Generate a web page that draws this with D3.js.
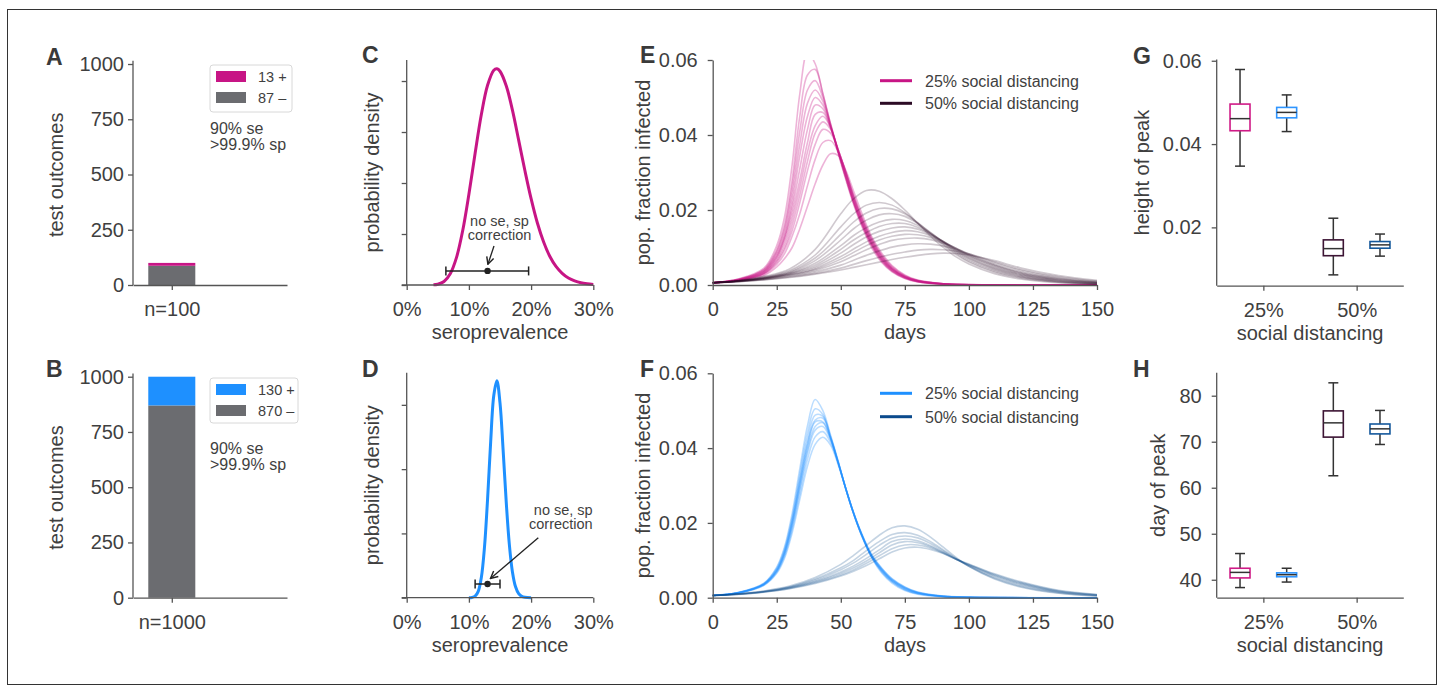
<!DOCTYPE html>
<html><head><meta charset="utf-8">
<script src="https://cdn.jsdelivr.net/npm/d3@7"></script>
<style>
body{margin:0;background:#fff;}
text{font-family:"Liberation Sans",Arial,Helvetica,sans-serif;}
</style>
</head><body>
<svg id="chart" width="1444" height="692"></svg>
<script>
// ---------------- DATA ----------------
// Panels A, B: test outcomes
const sampleLabels = ["n=100", "n=1000"];
const positiveCounts = [13, 130];
const negativeCounts = [87, 870];
const assayText = ["90% se", ">99.9% sp"];
const countTicks = [0, 250, 500, 750, 1000];

// Panels C, D: seroprevalence posterior densities
const seroGridC = [0.043,0.05,0.06,0.07,0.08,0.09,0.10,0.11,0.12,0.13,0.14,0.145,0.15,0.16,0.17,0.18,0.19,0.20,0.21,0.22,0.23,0.24,0.25,0.26,0.27,0.28,0.29,0.30];
const densityC = [0.01,0.036,0.17,0.55,1.34,2.66,4.45,6.46,8.36,9.79,10.53,10.6,10.48,9.77,8.57,7.10,5.61,4.23,3.05,2.12,1.41,0.91,0.57,0.34,0.20,0.11,0.06,0.03];
const seroGridD = [0.10,0.105,0.11,0.115,0.12,0.125,0.13,0.135,0.14,0.145,0.15,0.155,0.16,0.165,0.17,0.175,0.18,0.185,0.19,0.20];
const densityD = [0.006,0.044,0.24,0.99,3.15,7.79,15.3,24.25,31.45,33.76,30.3,23.0,14.9,8.31,4.01,1.69,0.62,0.20,0.058,0.003];
const densityTicksC = [0, 2.5, 5, 7.5, 10];
const densityTicksD = [0, 10, 20, 30];
const seroTicks = [0, 0.1, 0.2, 0.3];
// naive estimate (no se, sp correction) with interval, drawn at a density height
const naiveEstimate = [0.13, 0.13];
const naiveLow = [0.063, 0.110];
const naiveHigh = [0.196, 0.150];
const naiveBarDensity = [0.69, 2.13];
const naiveNote = ["no se, sp", "correction"];

// Panels E, F: epidemic trajectories (fraction infected)
const days25 = [0,10,20,25,28,31,34,37,40,43,46,49,52,55,58,62,66,70,75,80,90,100,150];
const curvesE25 = [
 [0.0006,0.0016,0.0045,0.0105,0.018,0.032,0.051,0.062,0.059,0.051,0.0425,0.035,0.028,0.0215,0.016,0.010,0.006,0.0035,0.0017,0.0008,0.0002,0.00005,0],
 [0.0006,0.0015,0.0042,0.0095,0.016,0.028,0.045,0.056,0.0575,0.051,0.043,0.0355,0.0285,0.022,0.0165,0.0105,0.0063,0.0037,0.0018,0.0009,0.00022,0.00005,0],
 [0.0006,0.0015,0.0040,0.0090,0.015,0.026,0.041,0.052,0.0545,0.050,0.043,0.0355,0.0285,0.022,0.0165,0.0107,0.0065,0.0038,0.0019,0.0009,0.00023,0.00006,0],
 [0.0006,0.0014,0.0038,0.0085,0.014,0.024,0.0375,0.0485,0.052,0.049,0.0425,0.0355,0.0285,0.022,0.0168,0.011,0.0067,0.0040,0.0020,0.00095,0.00025,0.00006,0],
 [0.0006,0.0014,0.0037,0.0080,0.013,0.022,0.0345,0.045,0.050,0.048,0.0425,0.0355,0.029,0.0225,0.017,0.011,0.0068,0.0040,0.0020,0.0010,0.00025,0.00006,0],
 [0.0006,0.00135,0.0035,0.0076,0.0125,0.0205,0.031,0.0415,0.048,0.047,0.042,0.0355,0.029,0.0225,0.0172,0.0112,0.0070,0.0042,0.0021,0.0010,0.00027,0.00007,0],
 [0.0006,0.0013,0.0034,0.0073,0.012,0.019,0.028,0.038,0.0455,0.046,0.042,0.036,0.0295,0.023,0.0175,0.0115,0.0072,0.0043,0.0022,0.0011,0.0003,0.00008,0],
 [0.0006,0.0013,0.0032,0.0068,0.011,0.0175,0.026,0.0355,0.0425,0.045,0.042,0.036,0.0298,0.0232,0.0178,0.0117,0.0074,0.0044,0.0022,0.0011,0.0003,0.00008,0],
 [0.0006,0.00125,0.0031,0.0064,0.010,0.016,0.024,0.033,0.0405,0.0435,0.0415,0.036,0.030,0.0235,0.018,0.012,0.0076,0.0045,0.0023,0.00115,0.0003,0.00008,0],
 [0.0006,0.0012,0.0030,0.0060,0.0093,0.0145,0.022,0.0305,0.0375,0.0415,0.0405,0.036,0.030,0.0238,0.0183,0.0122,0.0078,0.0047,0.0024,0.0012,0.00032,0.00009,0],
 [0.0006,0.00115,0.0028,0.0055,0.0083,0.013,0.019,0.0265,0.0335,0.038,0.0385,0.0355,0.030,0.024,0.0186,0.0125,0.0080,0.0049,0.0025,0.00125,0.00033,0.00009,0],
 [0.0006,0.0011,0.0025,0.0048,0.0070,0.010,0.015,0.021,0.027,0.032,0.035,0.0345,0.0305,0.025,0.0195,0.013,0.0085,0.0052,0.0027,0.0013,0.00035,0.0001,0]
];
const days50 = [0,10,20,30,40,50,55,60,65,70,75,80,85,90,95,100,110,120,135,150];
const curvesE50 = [
 [0.0006,0.0012,0.0023,0.0043,0.0095,0.019,0.023,0.0252,0.025,0.023,0.020,0.0165,0.013,0.010,0.0075,0.0056,0.003,0.0016,0.0006,0.0002],
 [0.0006,0.00115,0.0021,0.0039,0.008,0.0155,0.019,0.0213,0.022,0.0213,0.0193,0.0165,0.0135,0.0106,0.0081,0.0061,0.0034,0.0019,0.00075,0.00028],
 [0.0006,0.0011,0.0020,0.0036,0.0072,0.0135,0.0168,0.0192,0.0204,0.0203,0.019,0.0166,0.0138,0.011,0.0085,0.0064,0.0037,0.0021,0.00085,0.00032],
 [0.0006,0.0011,0.00195,0.0034,0.0065,0.012,0.015,0.0173,0.0187,0.019,0.0183,0.0164,0.014,0.0113,0.0088,0.0068,0.0040,0.0023,0.00095,0.00037],
 [0.0006,0.00105,0.00185,0.0032,0.0058,0.0105,0.0132,0.0153,0.0168,0.0175,0.0172,0.0159,0.0139,0.0115,0.0091,0.0071,0.0043,0.0025,0.0011,0.00043],
 [0.0006,0.00105,0.0018,0.0031,0.0053,0.0095,0.012,0.014,0.0156,0.0164,0.0164,0.0154,0.0137,0.0116,0.0093,0.0073,0.0045,0.0027,0.0012,0.0005],
 [0.0006,0.0010,0.00175,0.00295,0.0049,0.0085,0.0108,0.0128,0.0143,0.0152,0.0155,0.0149,0.0135,0.0116,0.0095,0.0076,0.0048,0.0029,0.00135,0.00058],
 [0.0006,0.0010,0.0017,0.0028,0.0045,0.0076,0.0096,0.0115,0.013,0.014,0.0145,0.0142,0.0132,0.0116,0.0097,0.0078,0.0051,0.0031,0.00145,0.00065],
 [0.0006,0.0010,0.00165,0.0027,0.0042,0.0069,0.0087,0.0105,0.012,0.013,0.0135,0.0134,0.0127,0.0114,0.0098,0.0080,0.0053,0.0033,0.0016,0.00072],
 [0.0006,0.00095,0.0016,0.00255,0.0039,0.0062,0.0078,0.0094,0.0108,0.0119,0.0124,0.0125,0.0121,0.0111,0.0098,0.0082,0.0055,0.0035,0.00175,0.0008],
 [0.0006,0.00095,0.0015,0.00235,0.0035,0.0053,0.0066,0.0079,0.0091,0.0101,0.0107,0.011,0.0109,0.0104,0.0095,0.0083,0.0059,0.0039,0.00195,0.0009],
 [0.0006,0.0009,0.0014,0.00215,0.0031,0.0045,0.0055,0.0065,0.0074,0.0082,0.0088,0.0093,0.0095,0.0094,0.009,0.0083,0.0062,0.0042,0.0022,0.00105],
 [0.0006,0.0009,0.00135,0.0020,0.0029,0.0040,0.0047,0.0054,0.0061,0.0068,0.0074,0.0079,0.0083,0.0085,0.0084,0.0080,0.0065,0.0046,0.0025,0.00125]
];
const curvesF25 = [
 [0.0006,0.0014,0.0039,0.0082,0.0135,0.0225,0.0345,0.046,0.053,0.050,0.0435,0.0365,0.029,0.0225,0.0168,0.0108,0.0066,0.0039,0.0019,0.00095,0.00025,0.00007,0],
 [0.0006,0.00135,0.0038,0.0079,0.013,0.0215,0.033,0.044,0.0505,0.049,0.043,0.0363,0.029,0.0225,0.017,0.011,0.0069,0.0042,0.0021,0.00105,0.00028,0.00008,0],
 [0.0006,0.00135,0.0037,0.0076,0.0125,0.0208,0.0318,0.0423,0.0488,0.0485,0.043,0.0362,0.029,0.0225,0.017,0.011,0.0070,0.0043,0.0022,0.0011,0.0003,0.00008,0],
 [0.0006,0.0013,0.00365,0.0074,0.0122,0.0203,0.031,0.0412,0.0475,0.048,0.0428,0.0361,0.029,0.0225,0.017,0.011,0.0072,0.0045,0.0024,0.0012,0.00032,0.00009,0],
 [0.0006,0.0013,0.0036,0.0073,0.012,0.020,0.0305,0.0405,0.047,0.047,0.0425,0.036,0.029,0.0225,0.017,0.0111,0.0074,0.0046,0.0025,0.0013,0.00035,0.0001,0],
 [0.0006,0.0013,0.00355,0.0071,0.0117,0.0194,0.0296,0.0395,0.0458,0.0468,0.0426,0.0361,0.0291,0.0226,0.0171,0.0112,0.0075,0.0047,0.0026,0.00135,0.00037,0.0001,0],
 [0.0006,0.00128,0.0035,0.0070,0.0115,0.019,0.029,0.0386,0.0448,0.0458,0.0422,0.036,0.0291,0.0226,0.0172,0.0113,0.0076,0.0048,0.0027,0.0014,0.00038,0.00011,0],
 [0.0006,0.00125,0.0034,0.0068,0.011,0.0182,0.0277,0.037,0.043,0.0444,0.0415,0.0358,0.0291,0.0227,0.0173,0.0115,0.0078,0.0050,0.0028,0.00145,0.0004,0.00012,0],
 [0.0006,0.00122,0.0033,0.0065,0.0105,0.0173,0.0263,0.0352,0.041,0.0429,0.0408,0.0355,0.029,0.0228,0.0174,0.0116,0.0079,0.0051,0.0029,0.0015,0.00042,0.00012,0]
];
const curvesF50 = [
 [0.0006,0.0010,0.0018,0.0031,0.0054,0.0089,0.0113,0.014,0.0167,0.0187,0.0192,0.0183,0.0162,0.0135,0.0108,0.0084,0.0050,0.0029,0.0012,0.00045],
 [0.0006,0.0010,0.0017,0.0029,0.0050,0.0080,0.010,0.0126,0.015,0.0169,0.0174,0.0167,0.015,0.0128,0.0105,0.0084,0.0052,0.0031,0.0013,0.0005],
 [0.0006,0.00097,0.00165,0.0028,0.0047,0.0075,0.0093,0.0116,0.014,0.0159,0.0165,0.016,0.0145,0.0125,0.0104,0.0085,0.0055,0.0034,0.00145,0.0006],
 [0.0006,0.00095,0.0016,0.0027,0.0044,0.0069,0.0085,0.0105,0.0128,0.015,0.0157,0.0152,0.0139,0.0122,0.0103,0.0087,0.0058,0.0037,0.0016,0.0007],
 [0.0006,0.00094,0.00157,0.0026,0.0042,0.0065,0.0080,0.0098,0.012,0.0141,0.015,0.0147,0.0136,0.012,0.0103,0.0088,0.0060,0.0039,0.0017,0.00075],
 [0.0006,0.00092,0.00152,0.0025,0.0040,0.0061,0.0075,0.0092,0.0112,0.0131,0.0141,0.0141,0.0133,0.0119,0.0103,0.0089,0.0062,0.0041,0.00185,0.0008],
 [0.0006,0.0009,0.00148,0.0024,0.0038,0.0058,0.0071,0.0086,0.0104,0.0122,0.0133,0.0135,0.0129,0.0118,0.0103,0.0090,0.0064,0.0043,0.00195,0.00085]
];
const dayTicks = [0, 25, 50, 75, 100, 125, 150];
const fractionTicks = [0, 0.02, 0.04, 0.06];
const scenarioLabels = ["25% social distancing", "50% social distancing"];

// Panels G, H: box plots of peak height and day of peak
const distancingLevels = ["25%", "50%"];
const boxLevel = [0, 0, 1, 1];          // which distancing level
const boxScenario = [0, 1, 0, 1];       // 0 = panel E model, 1 = panel F model
const heightLo  = [0.0347, 0.0430, 0.0086, 0.0131];
const heightQ1  = [0.0432, 0.0463, 0.0132, 0.0150];
const heightMed = [0.0461, 0.0476, 0.0149, 0.0158];
const heightQ3  = [0.0496, 0.0488, 0.0170, 0.0166];
const heightHi  = [0.0579, 0.0518, 0.0222, 0.0184];
const dayLo  = [38.3, 39.5, 62.6, 69.4];
const dayQ1  = [40.4, 40.65, 71.0, 71.7];
const dayMed = [41.6, 41.1, 74.1, 72.8];
const dayQ3  = [42.5, 41.5, 76.7, 73.85];
const dayHi  = [45.7, 42.5, 82.8, 76.8];
const heightTicks = [0.02, 0.04, 0.06];
const peakDayTicks = [40, 50, 60, 70, 80];

// ---------------- STYLE ----------------
const FONT = '"Liberation Sans", Arial, Helvetica, sans-serif';
const TXT = "#3f3f3f", SPINE = "#555555";
const PINK = "#c71585", GREYBAR = "#6b6c70", BLUE = "#1e90ff";
const DARKP = "#2b0a24", DARKB = "#0b4a8c";
const boxEdge = [["#cf1a86", "#2f95ff"], ["#3d1434", "#14589c"]]; // [level][scenario]

const svg = d3.select("#chart");
svg.append("rect").attr("x", 7.5).attr("y", 9.5).attr("width", 1429).attr("height", 675)
  .attr("fill", "none").attr("stroke", "#333").attr("stroke-width", 1);

function styleAxis(g, size) {
  g.attr("font-family", FONT).attr("font-size", size || 20).attr("color", SPINE);
  g.selectAll("path, line").attr("stroke", SPINE).attr("stroke-width", 1.3);
  g.selectAll("text").attr("fill", TXT);
}
function yLabel(x, yc, txt) {
  svg.append("text").attr("transform", `translate(${x},${yc}) rotate(-90)`)
    .attr("text-anchor", "middle").attr("font-size", 20).attr("fill", TXT).text(txt);
}
function xLabel(xc, y, txt) {
  svg.append("text").attr("x", xc).attr("y", y).attr("text-anchor", "middle")
    .attr("font-size", 20).attr("fill", TXT).text(txt);
}
function letter(x, y, t) {
  svg.append("text").attr("x", x).attr("y", y).attr("font-size", 23).attr("font-weight", "bold")
    .attr("fill", "#3a3a3a").text(t);
}
let clipId = 0;
function clip(x0, y0, x1, y1) {
  const id = "clip" + (clipId++);
  svg.append("clipPath").attr("id", id).append("rect")
    .attr("x", x0).attr("y", y0).attr("width", x1 - x0).attr("height", y1 - y0);
  return `url(#${id})`;
}

// ---------------- PANELS A, B ----------------
const panelAB = [
  {y0: 285, y1: 60.7, letterY: 65, posColor: PINK, legend: [210, 65, 82, 47], note: [134, 150]},
  {y0: 597.7, y1: 373.4, letterY: 377, posColor: BLUE, legend: [210, 378, 88, 45], note: [454, 470]}
];
panelAB.forEach((p, i) => {
  const x = d3.scaleLinear().domain([-0.66, 1.96]).range([133, 287]);
  const y = d3.scaleLinear().domain([0, 1015]).range([p.y0, p.y1]);
  const bw = 0.8;
  svg.append("rect").attr("x", x(-bw / 2)).attr("width", x(bw / 2) - x(-bw / 2))
    .attr("y", y(negativeCounts[i])).attr("height", y(0) - y(negativeCounts[i])).attr("fill", GREYBAR);
  svg.append("rect").attr("x", x(-bw / 2)).attr("width", x(bw / 2) - x(-bw / 2))
    .attr("y", y(negativeCounts[i] + positiveCounts[i])).attr("height", y(negativeCounts[i]) - y(negativeCounts[i] + positiveCounts[i]))
    .attr("fill", p.posColor);
  const gy = svg.append("g").attr("transform", `translate(133,0)`)
    .call(d3.axisLeft(y).tickValues(countTicks).tickFormat(d3.format("d")).tickSize(5).tickPadding(4).tickSizeOuter(0));
  styleAxis(gy);
  gy.select(".domain").attr("d", `M0,${p.y0}V${p.y1}`);
  const gx = svg.append("g").attr("transform", `translate(0,${p.y0})`)
    .call(d3.axisBottom(x).tickValues([0]).tickFormat(() => sampleLabels[i]).tickSize(5).tickPadding(12).tickSizeOuter(0));
  styleAxis(gx);
  yLabel(63, (p.y0 + p.y1) / 2 + 2, "test outcomes");
  letter(46, p.letterY, i === 0 ? "A" : "B");
  // legend
  const [lx, ly, lw, lh] = p.legend;
  svg.append("rect").attr("x", lx).attr("y", ly).attr("width", lw).attr("height", lh).attr("rx", 3)
    .attr("fill", "#fff").attr("stroke", "#d8d8d8").attr("stroke-width", 1);
  const entries = [[p.posColor, `${positiveCounts[i]} +`], [GREYBAR, `${negativeCounts[i]} –`]];
  entries.forEach((e, k) => {
    svg.append("rect").attr("x", lx + 6).attr("y", ly + 6 + k * 21).attr("width", 30).attr("height", 11).attr("fill", e[0]);
    svg.append("text").attr("x", lx + 48).attr("y", ly + 16.5 + k * 21).attr("font-size", 14.5).attr("fill", TXT).text(e[1]);
  });
  assayText.forEach((t, k) => {
    svg.append("text").attr("x", 210).attr("y", p.note[k]).attr("font-size", 16).attr("fill", TXT).text(t);
  });
});

// ---------------- PANELS C, D ----------------
const panelCD = [
  {grid: seroGridC, dens: densityC, ticks: densityTicksC, yTop: 11.03, y0: 285, y1: 60, letterY: 63, color: PINK,
   noteX: 499.5, noteY: [225.5, 239.5], anchor: "middle", arrow: [494, 246, 487.9, 264.3]},
  {grid: seroGridD, dens: densityD, ticks: densityTicksD, yTop: 35, y0: 597.7, y1: 372.7, letterY: 377, color: BLUE,
   noteX: 592.7, noteY: [514.5, 528.5], anchor: "end", arrow: [538.3, 537.7, 490.5, 578.5]}
];
svg.append("defs").append("marker").attr("id", "arr").attr("viewBox", "0 0 10 10")
  .attr("refX", 9).attr("refY", 5).attr("markerWidth", 9).attr("markerHeight", 9)
  .attr("markerUnits", "userSpaceOnUse").attr("orient", "auto")
  .append("path").attr("d", "M1,1 L9,5 L1,9").attr("fill", "none").attr("stroke", "#222").attr("stroke-width", 1.6);
panelCD.forEach((p, i) => {
  const x = d3.scaleLinear().domain([0, 0.30]).range([406.7, 593.3]);
  const y = d3.scaleLinear().domain([0, p.yTop]).range([p.y0, p.y1]);
  const pts = p.grid.map((g, k) => [g, p.dens[k]]);
  svg.append("path").datum(pts)
    .attr("d", d3.line().x(d => x(d[0])).y(d => y(d[1])).curve(d3.curveCatmullRom))
    .attr("fill", "none").attr("stroke", p.color).attr("stroke-width", 3);
  const gy = svg.append("g").attr("transform", `translate(406.7,0)`)
    .call(d3.axisLeft(y).tickValues(p.ticks).tickFormat("").tickSize(5).tickSizeOuter(0));
  styleAxis(gy);
  gy.select(".domain").attr("d", `M0,${p.y0}V${p.y1}`);
  const gx = svg.append("g").attr("transform", `translate(0,${p.y0})`)
    .call(d3.axisBottom(x).tickValues(seroTicks).tickFormat(d3.format(".0%")).tickSize(5).tickPadding(12).tickSizeOuter(0));
  styleAxis(gx);
  gx.select(".domain").attr("d", `M401.7,0H593.3`);
  yLabel(379, (p.y0 + p.y1) / 2, "probability density");
  xLabel(500, p.y0 + 54, "seroprevalence");
  letter(362, p.letterY, i === 0 ? "C" : "D");
  // naive estimate error bar
  const yb = y(naiveBarDensity[i]);
  svg.append("line").attr("x1", x(naiveLow[i])).attr("x2", x(naiveHigh[i])).attr("y1", yb).attr("y2", yb)
    .attr("stroke", "#222").attr("stroke-width", 1.5);
  [naiveLow[i], naiveHigh[i]].forEach(v => svg.append("line").attr("x1", x(v)).attr("x2", x(v))
    .attr("y1", yb - 4.5).attr("y2", yb + 4.5).attr("stroke", "#222").attr("stroke-width", 1.5));
  svg.append("circle").attr("cx", x(naiveEstimate[i])).attr("cy", yb).attr("r", 3.2).attr("fill", "#222");
  naiveNote.forEach((t, k) => svg.append("text").attr("x", p.noteX).attr("y", p.noteY[k])
    .attr("text-anchor", p.anchor).attr("font-size", 14.5).attr("fill", TXT).text(t));
  const a = p.arrow;
  svg.append("line").attr("x1", a[0]).attr("y1", a[1]).attr("x2", a[2]).attr("y2", a[3])
    .attr("stroke", "#222").attr("stroke-width", 1.3).attr("marker-end", "url(#arr)");
});

// ---------------- PANELS E, F ----------------
const panelEF = [
  {y0: 285, y1: 60, letterY: 63, sets: [[curvesE25, days25, PINK, 0.32], [curvesE50, days50, DARKP, 0.22]],
   legendColors: [PINK, DARKP], legendY: [80.7, 103.3]},
  {y0: 597.7, y1: 373.3, letterY: 377, sets: [[curvesF25, days25, BLUE, 0.3], [curvesF50, days50, DARKB, 0.24]],
   legendColors: [BLUE, DARKB], legendY: [393.3, 416.7]}
];
panelEF.forEach((p, i) => {
  const x = d3.scaleLinear().domain([0, 150]).range([712.7, 1097]);
  const y = d3.scaleLinear().domain([0, 0.06]).range([p.y0, p.y1]);
  const cp = clip(712, p.y1, 1098, p.y0 + 2);
  const g = svg.append("g").attr("clip-path", cp);
  p.sets.forEach(([curves, days, col, op]) => {
    curves.forEach(c => {
      g.append("path").datum(c.map((v, k) => [days[k], v]))
        .attr("d", d3.line().x(d => x(d[0])).y(d => y(d[1])).curve(d3.curveCatmullRom))
        .attr("fill", "none").attr("stroke", col).attr("stroke-opacity", op).attr("stroke-width", 1.6);
    });
  });
  const gy = svg.append("g").attr("transform", `translate(712.7,0)`)
    .call(d3.axisLeft(y).tickValues(fractionTicks).tickFormat(d3.format(".2f")).tickSize(5).tickPadding(10).tickSizeOuter(0));
  styleAxis(gy);
  const gx = svg.append("g").attr("transform", `translate(0,${p.y0})`)
    .call(d3.axisBottom(x).tickValues(dayTicks).tickSize(5).tickPadding(12).tickSizeOuter(0));
  styleAxis(gx);
  yLabel(650, (p.y0 + p.y1) / 2, "pop. fraction infected");
  xLabel(905, p.y0 + 54, "days");
  letter(640, p.letterY, i === 0 ? "E" : "F");
  scenarioLabels.forEach((t, k) => {
    svg.append("line").attr("x1", 880).attr("x2", 912).attr("y1", p.legendY[k]).attr("y2", p.legendY[k])
      .attr("stroke", p.legendColors[k]).attr("stroke-width", 3);
    svg.append("text").attr("x", 925).attr("y", p.legendY[k] + 6).attr("font-size", 16).attr("fill", TXT).text(t);
  });
});

// ---------------- PANELS G, H ----------------
const panelGH = [
  {lo: heightLo, q1: heightQ1, med: heightMed, q3: heightQ3, hi: heightHi, domain: [0.006, 0.0603], y0: 285.7, y1: 59.5,
   ticks: heightTicks, fmt: d3.format(".2f"), label: "height of peak", labelX: 1149, letterY: 64, L: "G"},
  {lo: dayLo, q1: dayQ1, med: dayMed, q3: dayQ3, hi: dayHi, domain: [36.1, 85], y0: 597.7, y1: 372.7,
   ticks: peakDayTicks, fmt: d3.format("d"), label: "day of peak", labelX: 1165, letterY: 377, L: "H"}
];
panelGH.forEach(p => {
  const x = d3.scaleLinear().domain([-0.5, 1.5]).range([1216.7, 1403.3]);
  const y = d3.scaleLinear().domain(p.domain).range([p.y0, p.y1]);
  const bw = 0.214, cw = 0.107;
  boxLevel.forEach((lvl, k) => {
    const cx = lvl + (boxScenario[k] === 0 ? -0.25 : 0.25);
    const col = boxEdge[lvl][boxScenario[k]];
    const g = svg.append("g");
    g.append("line").attr("x1", x(cx)).attr("x2", x(cx)).attr("y1", y(p.hi[k])).attr("y2", y(p.q3[k])).attr("stroke", "#333").attr("stroke-width", 1.5);
    g.append("line").attr("x1", x(cx)).attr("x2", x(cx)).attr("y1", y(p.q1[k])).attr("y2", y(p.lo[k])).attr("stroke", "#333").attr("stroke-width", 1.5);
    [p.hi[k], p.lo[k]].forEach(v => g.append("line").attr("x1", x(cx - cw / 2)).attr("x2", x(cx + cw / 2))
      .attr("y1", y(v)).attr("y2", y(v)).attr("stroke", "#333").attr("stroke-width", 1.5));
    g.append("rect").attr("x", x(cx - bw / 2)).attr("width", x(cx + bw / 2) - x(cx - bw / 2))
      .attr("y", y(p.q3[k])).attr("height", y(p.q1[k]) - y(p.q3[k]))
      .attr("fill", "#fff").attr("stroke", col).attr("stroke-width", 1.6);
    g.append("line").attr("x1", x(cx - bw / 2)).attr("x2", x(cx + bw / 2)).attr("y1", y(p.med[k])).attr("y2", y(p.med[k]))
      .attr("stroke", "#333").attr("stroke-width", 1.5);
  });
  const gy = svg.append("g").attr("transform", `translate(1216.7,0)`)
    .call(d3.axisLeft(y).tickValues(p.ticks).tickFormat(p.fmt).tickSize(5).tickPadding(10).tickSizeOuter(0));
  styleAxis(gy);
  gy.select(".domain").attr("d", `M0,${p.y0}V${p.y1}`);
  const gx = svg.append("g").attr("transform", `translate(0,${p.y0})`)
    .call(d3.axisBottom(x).tickValues([0, 1]).tickFormat(d => distancingLevels[d]).tickSize(5).tickPadding(12).tickSizeOuter(0));
  styleAxis(gx);
  yLabel(p.labelX, (p.y0 + p.y1) / 2, p.label);
  xLabel(1310, p.y0 + 54, "social distancing");
  letter(1133, p.letterY, p.L);
});
</script>
</body></html>
